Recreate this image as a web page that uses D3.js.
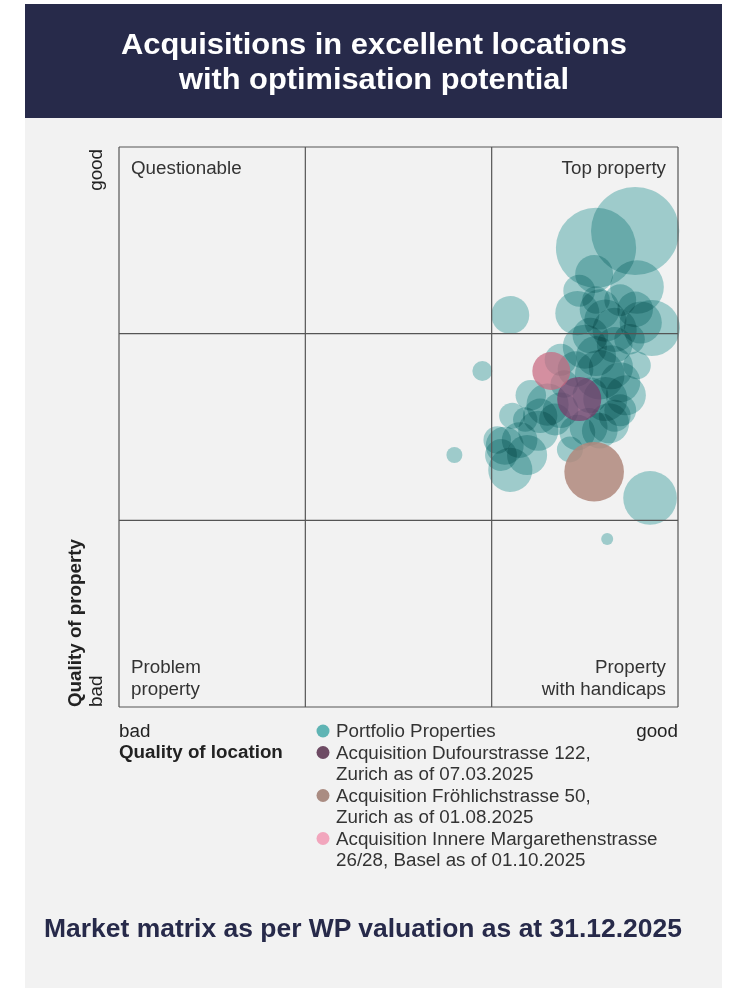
<!DOCTYPE html>
<html>
<head>
<meta charset="utf-8">
<script src="https://cdn.jsdelivr.net/npm/d3@7"></script>
<style>
  body { margin: 0; background: #fff; }
  svg { display: block; font-family: "Liberation Sans", Arial, sans-serif; }
  .portfolio { mix-blend-mode: multiply; }
</style>
</head>
<body>
<div id="chart"></div>
<script>
// Portfolio properties: quality of location (0 bad - 3 good), quality of property, size
const portfolioLocation = [2.77, 2.56, 2.55, 2.78, 2.10, 2.46, 2.86, 2.61, 2.80, 2.50,
  2.64, 2.58, 2.78, 2.72, 2.66, 2.37, 1.95, 1.80, 2.62, 2.85,
  2.07, 2.10, 2.11, 2.19, 2.25, 2.30, 2.52, 2.63, 2.46, 2.69,
  2.56, 2.39, 2.74, 2.53, 2.18, 2.42, 2.34, 2.69,
  2.58, 2.66, 2.53, 2.69, 2.61, 2.56, 2.45, 2.58, 2.66, 2.37,
  2.21, 2.77, 2.47, 2.03, 2.15, 2.26, 2.05];
const portfolioProperty = [2.55, 2.46, 2.32, 2.25, 2.10, 2.11, 2.03, 2.07, 2.06, 1.93,
  1.82, 1.78, 1.83, 1.67, 1.94, 1.86, 1.80, 1.35, 0.90, 1.12,
  1.40, 1.27, 1.56, 1.35, 1.48, 1.62, 1.50, 1.52, 1.47, 2.18,
  2.18, 1.73, 1.97, 1.67, 1.54, 1.38, 1.54, 1.59,
  2.13, 2.02, 1.99, 1.74, 1.65, 1.88, 1.81, 1.48, 1.56, 1.59,
  1.67, 2.13, 2.23, 1.43, 1.43, 1.56, 1.35];
const portfolioSize = [92, 76, 17, 34, 17, 23, 37, 21, 21, 23,
  23, 29, 9, 19, 15, 12, 4.7, 3, 1.7, 34,
  17, 23, 8, 19, 19, 21, 17, 19, 15, 12,
  9, 9, 11, 15, 7, 8, 12, 12,
  19, 23, 15, 19, 23, 19, 15, 15, 12, 15,
  11, 15, 12, 9, 15, 14, 12];

// Acquisitions
const acquisitionNames = ["Dufourstrasse", "Fröhlichstrasse", "Innere Margarethenstrasse"];
const acquisitionLocation = [2.47, 2.55, 2.32];
const acquisitionProperty = [1.65, 1.26, 1.80];
const acquisitionSize = [23, 42, 17];

const legendLabels = [
  ["Portfolio Properties"],
  ["Acquisition Dufourstrasse 122,", "Zurich as of 07.03.2025"],
  ["Acquisition Fröhlichstrasse 50,", "Zurich as of 01.08.2025"],
  ["Acquisition Innere Margarethenstrasse", "26/28, Basel as of 01.10.2025"]
];
const legendColors = ["#5fb4b4", "#6e4b64", "#aa8c82", "#f2a6bd"];
const bubbleColors = ["#5fb4b4", "#7a3a6a", "#b0887c", "#c8687f"];
const bubbleOpacity = [0.55, 0.72, 0.85, 0.72];

const quadrantLabels = ["Questionable", "Top property", "Problem property", "Property with handicaps"];

const W = 733, H = 990;
const margin = { left: 119, top: 147, right: 55, bottom: 283 };
const plotW = W - margin.left - margin.right;
const plotH = H - margin.top - margin.bottom;
const fs = "18.8px";

const svg = d3.select("#chart").append("svg")
  .attr("width", W)
  .attr("height", H);

// panel + title bar
svg.append("rect").attr("x", 25).attr("y", 118).attr("width", 697).attr("height", 870).attr("fill", "#f2f2f2");
svg.append("rect").attr("x", 25).attr("y", 4).attr("width", 697).attr("height", 114).attr("fill", "#272a4a");

const title = svg.append("g")
  .attr("text-anchor", "middle")
  .attr("fill", "#fff")
  .style("font-size", "30px")
  .style("font-weight", "bold");
title.append("text").attr("x", 374).attr("y", 54)
  .attr("textLength", 506).attr("lengthAdjust", "spacingAndGlyphs")
  .text("Acquisitions in excellent locations");
title.append("text").attr("x", 374).attr("y", 89)
  .attr("textLength", 390).attr("lengthAdjust", "spacingAndGlyphs")
  .text("with optimisation potential");

const x = d3.scaleLinear().domain([0, 3]).range([0, plotW]);
const y = d3.scaleLinear().domain([0, 3]).range([plotH, 0]);
const r = d3.scaleSqrt().domain([0, 100]).range([0, 46]);

const g = svg.append("g").attr("transform", `translate(${margin.left},${margin.top})`);

// portfolio bubbles, multiplied so overlaps get darker
g.selectAll("circle.portfolio")
  .data(portfolioLocation.map((d, i) => ({ loc: d, prop: portfolioProperty[i], size: portfolioSize[i] })))
  .enter()
  .append("circle")
  .attr("class", "portfolio")
  .attr("cx", d => x(d.loc))
  .attr("cy", d => y(d.prop))
  .attr("r", d => r(d.size))
  .attr("fill", bubbleColors[0])
  .attr("fill-opacity", bubbleOpacity[0]);

// acquisitions on top
g.selectAll("circle.acq")
  .data(acquisitionNames.map((d, i) => ({ loc: acquisitionLocation[i], prop: acquisitionProperty[i], size: acquisitionSize[i], s: i + 1 })))
  .enter()
  .append("circle")
  .attr("class", "acq")
  .attr("cx", d => x(d.loc))
  .attr("cy", d => y(d.prop))
  .attr("r", d => r(d.size))
  .attr("fill", d => bubbleColors[d.s])
  .attr("fill-opacity", d => bubbleOpacity[d.s]);

// 3x3 matrix grid
const grid = g.append("g").attr("stroke", "#555").attr("stroke-width", 1.2);
grid.selectAll("line.v").data(d3.range(0, 4)).enter().append("line")
  .attr("x1", d => x(d)).attr("x2", d => x(d)).attr("y1", 0).attr("y2", plotH);
grid.selectAll("line.h").data(d3.range(0, 4)).enter().append("line")
  .attr("x1", 0).attr("x2", plotW).attr("y1", d => y(d)).attr("y2", d => y(d));

// quadrant labels
const ql = g.append("g").attr("fill", "#333").style("font-size", fs);
ql.append("text").attr("x", 12).attr("y", 27).text(quadrantLabels[0]);
ql.append("text").attr("x", plotW - 12).attr("y", 27).attr("text-anchor", "end").text(quadrantLabels[1]);
const pp = ql.append("text").attr("y", plotH - 34);
pp.append("tspan").attr("x", 12).text("Problem");
pp.append("tspan").attr("x", 12).attr("dy", 22).text("property");
const ph = ql.append("text").attr("y", plotH - 34).attr("text-anchor", "end");
ph.append("tspan").attr("x", plotW - 12).text("Property");
ph.append("tspan").attr("x", plotW - 12).attr("dy", 22).text("with handicaps");

// axis labels
const axisText = svg.append("g").attr("fill", "#222").style("font-size", fs);
axisText.append("text").attr("x", margin.left).attr("y", 737).text("bad");
axisText.append("text").attr("x", margin.left + plotW).attr("y", 737).attr("text-anchor", "end").text("good");
axisText.append("text").attr("x", margin.left).attr("y", 758).style("font-weight", "bold").text("Quality of location");

axisText.append("text").attr("transform", `translate(102,${margin.top + 2}) rotate(-90)`)
  .attr("text-anchor", "end").text("good");
axisText.append("text").attr("transform", `translate(102,${margin.top + plotH}) rotate(-90)`)
  .text("bad");
axisText.append("text").attr("transform", `translate(81,${margin.top + plotH}) rotate(-90)`)
  .style("font-weight", "bold").text("Quality of property");

// legend
const legend = svg.append("g").attr("transform", "translate(323,0)");
let rowY = 737;
legendLabels.forEach((lines, i) => {
  legend.append("circle").attr("cx", 0).attr("cy", rowY - 6).attr("r", 6.5).attr("fill", legendColors[i]);
  lines.forEach((t, j) => {
    legend.append("text").attr("x", 13).attr("y", rowY + j * 21.5)
      .attr("fill", "#333").style("font-size", fs).text(t);
  });
  rowY += lines.length * 21.5;
});

// footer
svg.append("text")
  .attr("x", 44).attr("y", 937)
  .attr("fill", "#272a4a")
  .attr("textLength", 638).attr("lengthAdjust", "spacingAndGlyphs")
  .style("font-size", "26px").style("font-weight", "bold")
  .text("Market matrix as per WP valuation as at 31.12.2025");
</script>
</body>
</html>
